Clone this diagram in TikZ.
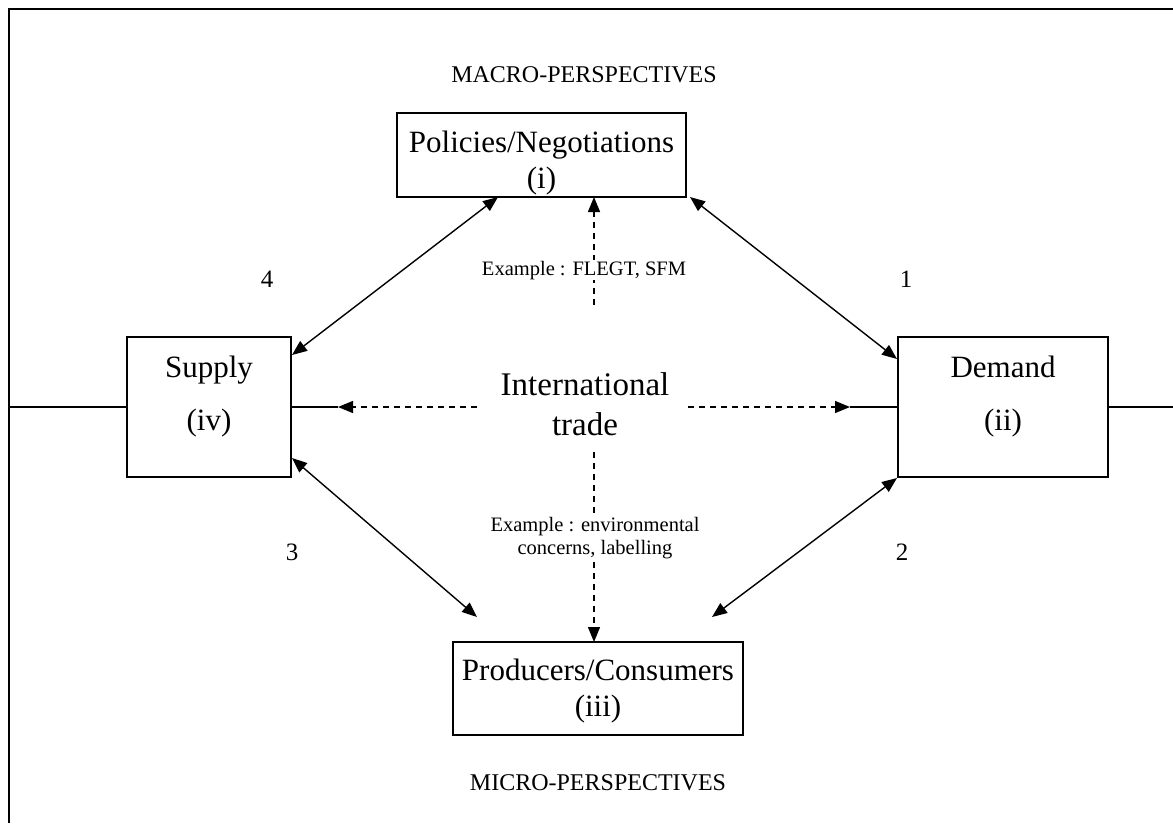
\documentclass[tikz,border=0pt]{standalone}
\usepackage{fontspec}
\setmainfont{Liberation Serif}
\usetikzlibrary{arrows.meta}
\begin{document}
\begin{tikzpicture}[x=1pt,y=-1pt,
  box/.style={draw, line width=1.3pt, inner sep=0pt},
  big/.style={font=\fontsize{31}{37}\selectfont, anchor=base, inner sep=0pt},
  title/.style={font=\fontsize{24}{29}\selectfont, anchor=base, inner sep=0pt},
  small/.style={font=\fontsize{20.5}{24}\selectfont, anchor=base, inner sep=1pt, fill=white},
  trade/.style={font=\fontsize{33}{40}\selectfont, anchor=base, inner sep=0pt},
  num/.style={font=\fontsize{25}{30}\selectfont, anchor=base, inner sep=0pt},
  link/.style={line width=1.4pt, {Triangle[length=15pt,width=12pt]}-{Triangle[length=15pt,width=12pt]}},
  dlink/.style={line width=1.3pt, dash pattern=on 6pt off 5pt, -{Triangle[length=15pt,width=12pt]}},
  plain/.style={line width=1.3pt}
]
\useasboundingbox (0,0) rectangle (1173,823);
% frame
\draw[line width=2.4pt] (9,823) -- (9,9) -- (1173,9);

% boxes
\node[box, minimum width=289pt, minimum height=84pt] (pol) at (541.5,155) {};
\node[box, minimum width=164pt, minimum height=140pt] (sup) at (209,407) {};
\node[box, minimum width=210pt, minimum height=140pt] (dem) at (1003,407) {};
\node[box, minimum width=290pt, minimum height=93pt] (pro) at (598,688.5) {};

% box texts
\node[big] (polt) at (541.5,152) {Policies/Negotiations};
\node[big] (poli) at (541.5,188) {(i)};
\node[big] (supt) at (209,377) {Supply};
\node[big] (supi) at (209,430) {(iv)};
\node[big] (demt) at (1003,377) {Demand};
\node[big] (demi) at (1003,430) {(ii)};
\node[big] (prot) at (598,680) {Producers/Consumers};
\node[big] (proi) at (598,716) {(iii)};

% titles
\node[title] (macro) at (584,82) {MACRO-PERSPECTIVES};
\node[title] (micro) at (598,790) {MICRO-PERSPECTIVES};

% numbers
\node[num] (n4) at (267,287) {4};
\node[num] (n1) at (906,287) {1};
\node[num] (n3) at (292,560) {3};
\node[num] (n2) at (902,560) {2};

% international trade
\node[trade] (it1) at (585,395) {International};
\node[trade] (it2) at (585,435) {trade};

% horizontal solid line segments
\coordinate (fl) at (9,407);
\coordinate (fr) at (1173,407);
\coordinate (tl) at (338,407);
\coordinate (tr) at (850,407);
\draw[plain] (fl) -- (sup.west);
\draw[plain] (dem.east) -- (fr);
\draw[plain] (sup.east) -- (tl);
\draw[plain] (tr) -- (dem.west);

% dashed arrows
\coordinate (dl0) at (477,407);
\coordinate (dr0) at (688,407);
\coordinate (du0) at (594,305);
\coordinate (dd0) at (594,452);
\coordinate (pbot) at (594,197);
\coordinate (ptop) at (594,642);
\draw[dlink] (dl0) -- (tl);
\draw[dlink] (dr0) -- (tr);
\draw[dlink] (du0) -- (pbot);
\draw[dlink] (dd0) -- (ptop);

% example labels
\node[small] (ex1) at (584,275) {Example : FLEGT, SFM};
\node[small, align=center, anchor=base, font=\fontsize{20.5}{23}\selectfont] (ex2) at (595,554) {Example : environmental\\concerns, labelling};

% solid double arrows
\coordinate (a4p) at (498,197);
\coordinate (a4s) at (292,355);
\coordinate (a1p) at (690,197);
\coordinate (a1d) at (897,359);
\coordinate (a3s) at (292,458);
\coordinate (a3p) at (477,617);
\coordinate (a2d) at (897,478);
\coordinate (a2p) at (712,617);
\draw[link] (a4p) -- (a4s);
\draw[link] (a1p) -- (a1d);
\draw[link] (a3s) -- (a3p);
\draw[link] (a2d) -- (a2p);
\end{tikzpicture}
\end{document}
